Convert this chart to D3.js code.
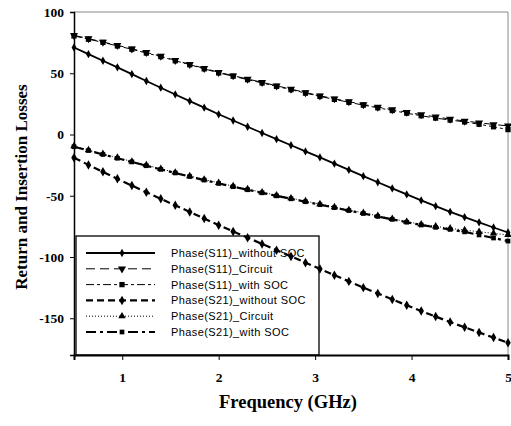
<!DOCTYPE html>
<html lang="en">
<head>
<meta charset="utf-8">
<style>
  body { margin: 0; background: white; }
  svg { background: white; }
  .tick text { font-family: 'Liberation Serif', serif; font-weight: bold; font-size: 13.5px; fill: #000; }
  .axis-title { font-family: 'Liberation Serif', serif; font-weight: bold; fill: #000; }
  .legend text { font-family: 'Liberation Sans', Arial, sans-serif; font-size: 11px; fill: #000; letter-spacing: 0.4px; }
</style>
</head>
<body>
<svg width="511" height="426"></svg>
<script src="https://d3js.org/d3.v7.min.js"></script>
<script>
// frequency samples (GHz)
const freq = [0.5, 0.65, 0.8, 0.95, 1.1, 1.25, 1.4, 1.55, 1.7, 1.85, 2.0, 2.15, 2.3, 2.45, 2.6, 2.75,
  2.9, 3.05, 3.2, 3.35, 3.5, 3.65, 3.8, 3.95, 4.1, 4.25, 4.4, 4.55, 4.7, 4.85, 5.0];

const s11Without = [71.0, 65.6, 60.2, 54.8, 49.3, 43.7, 38.2, 32.7, 27.3, 21.9, 16.5, 11.4, 6.3, 1.2, -3.8, -8.8,
  -13.8, -18.7, -23.8, -28.9, -34.0, -39.0, -44.0, -48.9, -53.8, -58.5, -63.1, -67.5, -71.7, -75.9, -80.0];
const s11Circuit = [81.0, 78.3, 75.5, 72.8, 70.0, 67.0, 64.0, 60.6, 57.3, 54.0, 50.8, 48.0, 45.3, 42.6, 39.8, 37.0,
  34.3, 31.6, 29.2, 26.8, 24.5, 22.4, 20.3, 18.2, 16.2, 14.4, 12.6, 11.0, 9.6, 8.2, 7.0];
const s11With = [80.5, 77.8, 75.2, 72.3, 69.6, 66.5, 63.6, 60.2, 57.0, 53.6, 50.3, 47.6, 44.8, 42.1, 39.3, 36.6,
  33.8, 31.1, 28.7, 26.3, 24.0, 21.8, 19.6, 17.4, 15.3, 13.4, 11.8, 10.3, 8.4, 6.3, 4.0];
const s21Without = [-19.0, -24.8, -30.5, -36.2, -41.7, -47.1, -52.5, -57.8, -63.2, -68.6, -74.0, -79.1, -84.2, -89.3, -94.4, -99.5,
  -104.6, -109.7, -114.8, -119.9, -125.0, -129.8, -134.6, -139.4, -144.1, -148.6, -153.1, -157.4, -161.6, -165.8, -170.0];
const s21Circuit = [-9.5, -12.7, -15.8, -18.9, -22.0, -25.0, -28.0, -31.0, -33.9, -36.7, -39.5, -42.1, -44.6, -47.2, -49.6, -52.0,
  -54.4, -56.8, -59.2, -61.6, -64.0, -66.4, -68.8, -71.2, -73.3, -75.0, -76.6, -78.0, -79.4, -80.7, -82.0];
const s21With = [-10.0, -13.1, -16.3, -19.4, -22.4, -25.5, -28.5, -31.4, -34.3, -37.2, -40.0, -42.6, -45.1, -47.6, -50.1, -52.5,
  -54.9, -57.3, -59.7, -62.1, -64.5, -66.9, -69.3, -71.6, -73.9, -75.8, -77.5, -79.5, -82.0, -84.5, -87.0];

const seriesNames = ["Phase(S11)_without SOC", "Phase(S11)_Circuit", "Phase(S11)_with SOC",
  "Phase(S21)_without SOC", "Phase(S21)_Circuit", "Phase(S21)_with SOC"];
const xTicks = [1, 2, 3, 4, 5];
const yTicks = [100, 50, 0, -50, -100, -150];

const series = [
  { name: seriesNames[0], values: s11Without, width: 1.8, dash: null, sym: d3.symbolDiamond, size: 20, rot: 0 },
  { name: seriesNames[1], values: s11Circuit, width: 1, dash: "9,5", sym: d3.symbolTriangle, size: 28, rot: 180 },
  { name: seriesNames[2], values: s11With, width: 1, dash: "8,3,3,3", sym: d3.symbolSquare, size: 28, rot: 0 },
  { name: seriesNames[3], values: s21Without, width: 2.2, dash: "7,4", sym: d3.symbolDiamond, size: 26, rot: 0 },
  { name: seriesNames[4], values: s21Circuit, width: 1, dash: "1,2", sym: d3.symbolTriangle, size: 24, rot: 0 },
  { name: seriesNames[5], values: s21With, width: 2.2, dash: "10,4,3,4", sym: d3.symbolSquare, size: 22, rot: 0 }
];

const svg = d3.select("svg");
const m = { left: 74, right: 508, top: 12, bottom: 355 };

const x = d3.scaleLinear().domain([0.5, 5]).range([m.left, m.right]);
const y = d3.scaleLinear().domain([-180, 100]).range([m.bottom, m.top]);

// frame: thin grey top / right
svg.append("path")
  .attr("d", `M${m.left},${m.top}H${m.right}V${m.bottom}`)
  .attr("fill", "none").attr("stroke", "#888").attr("stroke-width", 1);

// legend box (behind curves)
const lg = svg.append("g").attr("class", "legend");
lg.append("rect")
  .attr("x", 76).attr("y", 236).attr("width", 243).attr("height", 119)
  .attr("fill", "white").attr("stroke", "#000").attr("stroke-width", 1.3);

const line = d3.line().x((d, i) => x(freq[i])).y(d => y(d));

series.forEach(s => {
  svg.append("path")
    .datum(s.values)
    .attr("d", line)
    .attr("fill", "none")
    .attr("stroke", "#000")
    .attr("stroke-width", s.width)
    .attr("stroke-dasharray", s.dash);
  svg.append("g").selectAll("path")
    .data(s.values)
    .join("path")
    .attr("d", d3.symbol(s.sym, s.size))
    .attr("transform", (d, i) => `translate(${x(freq[i])},${y(d)}) rotate(${s.rot})`)
    .attr("fill", "#000");
});

// axes (hyphen minus like the original)
const fmt = d => String(d);
const xAxis = svg.append("g")
  .attr("transform", `translate(0,${m.bottom})`)
  .call(d3.axisBottom(x).tickValues(xTicks).tickSize(5).tickPadding(12).tickFormat(fmt));
xAxis.select(".domain").attr("stroke-width", 2);

const yAxis = svg.append("g")
  .attr("transform", `translate(${m.left},0)`)
  .call(d3.axisLeft(y).tickValues(yTicks).tickSize(4).tickPadding(6).tickFormat(fmt));
yAxis.select(".domain").attr("stroke-width", 1.5);

svg.append("text").attr("class", "axis-title")
  .attr("x", 288).attr("y", 408).attr("text-anchor", "middle")
  .style("font-size", "18.5px")
  .text("Frequency (GHz)");
svg.append("text").attr("class", "axis-title")
  .attr("transform", "translate(27,187) rotate(-90)")
  .attr("text-anchor", "middle")
  .style("font-size", "17px")
  .text("Return and Insertion Losses");

// legend entries
series.forEach((s, i) => {
  const yy = 253 + i * 15.8;
  lg.append("line")
    .attr("x1", 86).attr("x2", 155).attr("y1", yy).attr("y2", yy)
    .attr("stroke", "#000").attr("stroke-width", s.width)
    .attr("stroke-dasharray", s.dash);
  lg.append("path")
    .attr("d", d3.symbol(s.sym, s.size))
    .attr("transform", `translate(122,${yy}) rotate(${s.rot})`)
    .attr("fill", "#000");
  lg.append("text")
    .attr("x", 171).attr("y", yy + 4)
    .text(s.name);
});
</script>
</body>
</html>
